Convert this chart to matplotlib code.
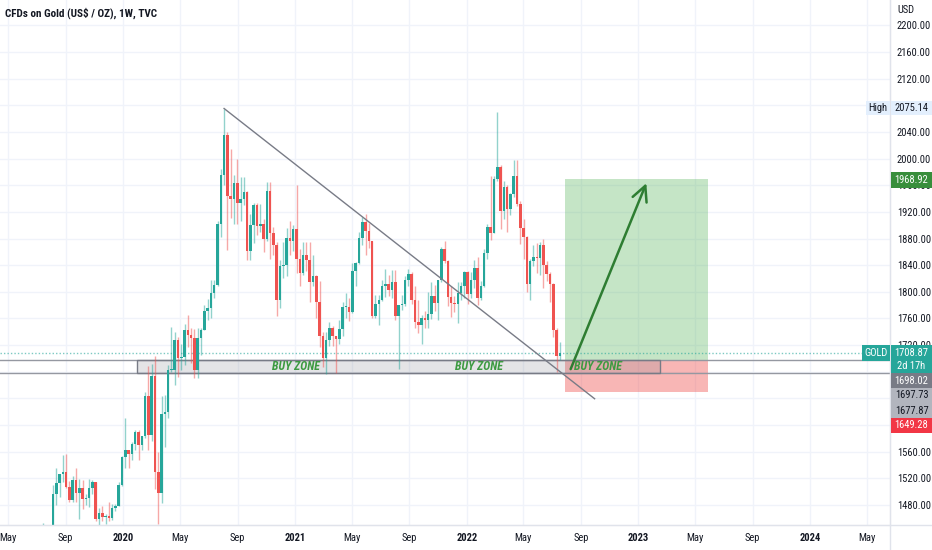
import matplotlib
matplotlib.use("Agg")
import matplotlib.pyplot as plt
import matplotlib.dates as mdates
from matplotlib import font_manager as fm
from matplotlib.patches import Rectangle
import numpy as np
import pandas as pd


def pick_narrow_font():
    # TradingView text is fairly narrow, look for a condensed face
    prefs = ['Liberation Sans Narrow', 'Roboto Condensed', 'Open Sans Condensed',
             'Noto Sans', 'DejaVu Sans', 'Open Sans', 'Roboto']
    for name in prefs:
        for f in fm.fontManager.ttflist:
            if f.name != name or f.style != 'normal':
                continue
            if 'Narrow' in name or 'Condensed' in name:
                return name, 'normal', True
            if f.stretch in ('condensed', 'semi-condensed'):
                return name, f.stretch, True
    return 'Liberation Sans', 'normal', False


font_name, font_stretch, is_narrow = pick_narrow_font()
plt.rcParams['font.family'] = [font_name, 'DejaVu Sans']
plt.rcParams['font.stretch'] = font_stretch
FS = 7.6 if is_narrow else 6.6

W, H = 932, 550

############### data ################
# weekly candles (open, high, low, close), first week starts monday 2019-07-01
first_week = "2019-07-01"

ohlc_2019 = [
    (1409, 1439, 1382, 1400), (1400, 1428, 1385, 1415), (1415, 1453, 1402, 1426),
    (1426, 1433, 1412, 1419), (1419, 1449, 1400, 1440), (1440, 1510, 1437, 1497),
    (1497, 1535, 1480, 1513), (1513, 1527, 1492, 1527), (1527, 1555, 1515, 1529),
    (1529, 1557, 1506, 1507), (1507, 1516, 1484, 1488), (1488, 1523, 1484, 1517),
    (1517, 1535, 1485, 1498), (1498, 1519, 1459, 1505), (1505, 1517, 1474, 1489),
    (1489, 1497, 1480, 1490), (1490, 1519, 1477, 1505), (1505, 1517, 1497, 1515),
    (1515, 1515, 1456, 1459), (1459, 1475, 1445, 1468), (1468, 1478, 1456, 1462),
    (1462, 1466, 1452, 1464), (1464, 1484, 1456, 1460), (1460, 1481, 1458, 1476),
    (1476, 1481, 1471, 1479), (1479, 1515, 1478, 1510), (1510, 1553, 1508, 1552),
]
ohlc_2020 = [
    (1552, 1611, 1536, 1562), (1562, 1563, 1536, 1557), (1557, 1575, 1548, 1571),
    (1571, 1592, 1563, 1589), (1589, 1592, 1547, 1570), (1570, 1584, 1563, 1584),
    (1584, 1649, 1581, 1643), (1643, 1689, 1563, 1585), (1585, 1692, 1576, 1674),
    (1674, 1703, 1504, 1529), (1529, 1560, 1451, 1498), (1498, 1644, 1483, 1617),
    (1617, 1645, 1567, 1620), (1620, 1690, 1611, 1683), (1683, 1747, 1680, 1683),
    (1683, 1739, 1660, 1727), (1727, 1732, 1672, 1700), (1700, 1722, 1682, 1702),
    (1702, 1752, 1690, 1743), (1743, 1765, 1717, 1735), (1735, 1745, 1693, 1730),
    (1730, 1744, 1670, 1683), (1683, 1745, 1671, 1730), (1730, 1745, 1705, 1743),
    (1743, 1780, 1742, 1771), (1771, 1789, 1757, 1775), (1775, 1818, 1760, 1798),
    (1798, 1818, 1791, 1810), (1810, 1907, 1808, 1902), (1902, 1984, 1882, 1975),
    (1975, 2075, 1960, 2035), (2035, 2040, 1863, 1944), (1944, 2015, 1911, 1940),
    (1940, 1976, 1902, 1964), (1964, 2000, 1902, 1934), (1934, 1973, 1906, 1940),
    (1940, 1973, 1931, 1950), (1950, 1952, 1848, 1861), (1861, 1917, 1848, 1900),
    (1900, 1933, 1873, 1930), (1930, 1933, 1886, 1899), (1899, 1932, 1890, 1902),
    (1902, 1910, 1860, 1879), (1879, 1965, 1876, 1951), (1951, 1965, 1850, 1889),
    (1889, 1897, 1855, 1871), (1871, 1875, 1764, 1788), (1788, 1848, 1775, 1839),
    (1839, 1875, 1820, 1840), (1840, 1896, 1823, 1881), (1881, 1906, 1855, 1877),
    (1877, 1900, 1862, 1895),
]
ohlc_2021 = [
    (1895, 1960, 1828, 1850), (1850, 1864, 1808, 1828), (1828, 1875, 1825, 1856),
    (1856, 1875, 1831, 1848), (1848, 1875, 1785, 1814), (1814, 1855, 1809, 1824),
    (1824, 1825, 1761, 1784), (1784, 1816, 1717, 1734), (1734, 1739, 1687, 1700),
    (1700, 1740, 1677, 1727), (1727, 1755, 1719, 1745), (1745, 1749, 1718, 1733),
    (1733, 1734, 1678, 1729), (1729, 1758, 1721, 1744), (1744, 1784, 1733, 1777),
    (1777, 1798, 1760, 1777), (1777, 1790, 1756, 1769), (1769, 1843, 1768, 1831),
    (1831, 1845, 1808, 1844), (1844, 1890, 1842, 1881), (1881, 1913, 1870, 1905),
    (1905, 1917, 1855, 1891), (1891, 1903, 1866, 1877), (1877, 1877, 1761, 1764),
    (1764, 1795, 1761, 1781), (1781, 1795, 1750, 1787), (1787, 1818, 1786, 1808),
    (1808, 1834, 1792, 1812), (1812, 1825, 1794, 1802), (1802, 1832, 1790, 1814),
    (1814, 1832, 1758, 1763), (1763, 1780, 1684, 1780), (1780, 1795, 1772, 1781),
    (1781, 1823, 1779, 1818), (1818, 1834, 1808, 1827), (1827, 1829, 1782, 1788),
    (1788, 1808, 1745, 1754), (1754, 1788, 1738, 1750), (1750, 1765, 1721, 1761),
    (1761, 1771, 1746, 1757), (1757, 1800, 1746, 1767), (1767, 1814, 1759, 1793),
    (1793, 1810, 1771, 1783), (1783, 1818, 1758, 1818), (1818, 1868, 1815, 1865),
    (1865, 1877, 1843, 1846), (1846, 1848, 1778, 1792), (1792, 1808, 1762, 1783),
    (1783, 1793, 1770, 1782), (1782, 1815, 1753, 1798), (1798, 1814, 1787, 1808),
    (1808, 1831, 1790, 1829),
]
ohlc_2022 = [
    (1829, 1831, 1782, 1797), (1797, 1830, 1791, 1817), (1817, 1848, 1805, 1835),
    (1835, 1853, 1780, 1791), (1791, 1816, 1788, 1808), (1808, 1865, 1807, 1859),
    (1859, 1902, 1849, 1898), (1898, 1974, 1878, 1889), (1889, 1974, 1889, 1970),
    (1970, 2070, 1966, 1988), (1988, 1991, 1895, 1921), (1921, 1966, 1910, 1958),
    (1958, 1960, 1890, 1925), (1925, 1949, 1915, 1947), (1947, 1998, 1943, 1974),
    (1974, 1998, 1929, 1932), (1932, 1936, 1872, 1896), (1896, 1909, 1850, 1883),
    (1883, 1884, 1799, 1811), (1811, 1849, 1787, 1846), (1846, 1870, 1838, 1853),
    (1853, 1874, 1828, 1851), (1851, 1875, 1825, 1871), (1871, 1879, 1805, 1840),
    (1840, 1847, 1816, 1826), (1826, 1830, 1784, 1811), (1811, 1813, 1732, 1742),
    (1742, 1745, 1680, 1703), (1703, 1724, 1698, 1708.87),
]

# drawings on the chart
all_time_high = 2075.14
target_price = 1968.92
entry_price = 1698.02
zone_top, zone_bottom = 1697.73, 1677.87
stop_price = 1649.28
last_price = 1708.87

trend_start = ("2020-08-03", 2075.14)
trend_end = ("2022-09-30", 1639.5)
zone_span = ("2020-01-30", "2023-02-16")
position_span = ("2022-07-28", "2023-05-30")
arrow_from = ("2022-08-10", 1684)
arrow_to = ("2023-01-18", 1963)
zone_labels = ["2021-01-03", "2022-01-27", "2022-10-07"]

price_ticks = np.arange(1480, 2201, 40)
hidden_ticks = [1600, 1640, 1680, 2080]   # covered by the price tags
tick_dates = ["2019-05-01", "2019-09-01", "2020-01-01", "2020-05-01", "2020-09-01",
              "2021-01-01", "2021-05-01", "2021-09-01", "2022-01-01", "2022-05-01",
              "2022-09-01", "2023-01-01", "2023-05-01", "2023-09-01", "2024-01-01",
              "2024-05-01"]
tick_labels = ["May", "Sep", "2020", "May", "Sep", "2021", "May", "Sep", "2022",
               "May", "Sep", "2023", "May", "Sep", "2024", "May"]

############### build arrays ################
rows = np.array(ohlc_2019 + ohlc_2020 + ohlc_2021 + ohlc_2022, dtype=float)
opens, highs, lows, closes = rows.T
weeks = pd.date_range(first_week, periods=len(rows), freq="7D")
xd = mdates.date2num(weeks)

UP, DOWN = '#26a69a', '#ef5350'
TXT = '#131722'


def d(s):
    return mdates.date2num(pd.Timestamp(s))


############### figure ################
fig = plt.figure(figsize=(W / 100, H / 100), dpi=100)
fig.patch.set_facecolor('white')
ax = fig.add_axes([0, 25 / H, 890 / W, 525 / H])

px_per_day = 0.4702
x_left = d("2020-01-01") - 123 / px_per_day
ax.set_xlim(x_left, x_left + 890 / px_per_day)
ax.set_ylim(1450, 2238)

# grid
for p in price_ticks:
    ax.axhline(p, color='#f0f3fa', lw=1, zorder=0)
for t in tick_dates:
    ax.axvline(d(t), color='#f0f3fa', lw=1, zorder=0)

# candles
up = closes >= opens
ax.vlines(xd[up], lows[up], highs[up], color=UP, alpha=0.5, lw=1, zorder=3)
ax.vlines(xd[~up], lows[~up], highs[~up], color=DOWN, alpha=0.5, lw=1, zorder=3)
body = np.abs(closes - opens)
body = np.where(body < 1.2, 1.2, body)
ax.bar(xd, body, bottom=np.minimum(opens, closes), width=5.4,
       color=np.where(up, UP, DOWN), linewidth=0, zorder=4)

# long position tool
ax.add_patch(Rectangle((d(position_span[0]), entry_price),
                       d(position_span[1]) - d(position_span[0]),
                       target_price - entry_price,
                       facecolor='#4caf50', alpha=0.32, lw=0, zorder=2))
ax.add_patch(Rectangle((d(position_span[0]), stop_price),
                       d(position_span[1]) - d(position_span[0]),
                       entry_price - stop_price,
                       facecolor='#ef5350', alpha=0.42, lw=0, zorder=2))

# buy zone
ax.axhline(zone_top, color='#9598a1', lw=1, zorder=2)
ax.axhline(zone_bottom, color='#9598a1', lw=1, zorder=2)
ax.add_patch(Rectangle((d(zone_span[0]), zone_bottom),
                       d(zone_span[1]) - d(zone_span[0]),
                       zone_top - zone_bottom,
                       facecolor='#787b86', alpha=0.2, edgecolor='none', zorder=2))
ax.add_patch(Rectangle((d(zone_span[0]), zone_bottom),
                       d(zone_span[1]) - d(zone_span[0]),
                       zone_top - zone_bottom,
                       facecolor='none', edgecolor='#787b86', lw=1, zorder=2))
for t in zone_labels:
    ax.text(d(t), (zone_top + zone_bottom) / 2, "BUY ZONE", color='#3d9a41',
            fontsize=FS + 1, style='italic', fontweight='bold',
            ha='center', va='center', zorder=6)

# current price line
ax.axhline(last_price, color=UP, lw=1, ls=(0, (1, 1.5)), alpha=0.6, zorder=2)

# trend line
ax.plot([d(trend_start[0]), d(trend_end[0])], [trend_start[1], trend_end[1]],
        color='#787b86', lw=1, zorder=5)

# arrow
ax.annotate("", xy=(d(arrow_to[0]), arrow_to[1]),
            xytext=(d(arrow_from[0]), arrow_from[1]),
            arrowprops=dict(arrowstyle='->,head_length=0.9,head_width=0.45',
                            color='#2e7d32', lw=1.8, shrinkA=0, shrinkB=0,
                            mutation_scale=12),
            zorder=6)

# axes styling
for s in ['top', 'left']:
    ax.spines[s].set_visible(False)
ax.spines['right'].set_color('#e0e3eb')
ax.spines['bottom'].set_color('#e0e3eb')
ax.yaxis.tick_right()
ax.set_yticks(price_ticks)
ax.set_yticklabels(["" if p in hidden_ticks else f"{p:.2f}" for p in price_ticks])
ax.tick_params(axis='y', length=0, pad=5, labelsize=FS, labelcolor=TXT)
ax.set_xticks([d(t) for t in tick_dates])
ax.set_xticklabels(tick_labels)
ax.tick_params(axis='x', length=0, pad=6, labelsize=FS, labelcolor=TXT)
for lab in ax.get_xticklabels():
    if lab.get_text().isdigit():
        lab.set_fontweight('bold')

# separator lines outside the axes
fig.add_artist(plt.Line2D([890 / W, 890 / W], [0, 1], color='#e0e3eb', lw=1))
fig.add_artist(plt.Line2D([0, 1], [25 / H, 25 / H], color='#e0e3eb', lw=1))


############### price tags ################
def tag(x0, y0, x1, y1, text, bg, fg, size=FS):
    fig.add_artist(Rectangle((x0 / W, 1 - y1 / H), (x1 - x0) / W, (y1 - y0) / H,
                             transform=fig.transFigure, facecolor=bg,
                             edgecolor='none', zorder=5))
    if text:
        fig.text((x0 + x1) / 2 / W, 1 - (y0 + y1) / 2 / H, text, color=fg,
                 fontsize=size, ha='center', va='center', zorder=6)


tag(866, 101, 890, 115, "High", '#e3effd', TXT)
tag(891, 101, 932, 115, f"{all_time_high:.2f}", '#e3effd', TXT)
tag(891, 172, 932, 188, f"{target_price:.2f}", '#388e3c', 'white')
tag(862, 345, 890, 361, "GOLD", UP, 'white')
tag(891, 345, 932, 373, "", UP, 'white')
tag(891, 345, 932, 360, f"{last_price:.2f}", UP, 'white')
tag(891, 359, 932, 373, "2d 17h", UP, 'white')
tag(891, 373, 932, 388, f"{entry_price:.2f}", '#787b86', 'white')
tag(891, 388, 932, 418, "", '#b2b5be', TXT)
tag(891, 388, 932, 403, f"{zone_top:.2f}", '#b2b5be', TXT)
tag(891, 403, 932, 418, f"{zone_bottom:.2f}", '#b2b5be', TXT)
tag(891, 418, 932, 433, f"{stop_price:.2f}", '#f23645', 'white')

fig.text(897 / W, 1 - 10 / H, "USD", color=TXT, fontsize=FS, va='center')
fig.text(5 / W, 1 - 13 / H, "CFDs on Gold (US$ / OZ), 1W, TVC", color=TXT,
         fontsize=FS + 0.4, fontweight='bold', va='center')

fig.savefig("out.png", dpi=100, facecolor='white')
